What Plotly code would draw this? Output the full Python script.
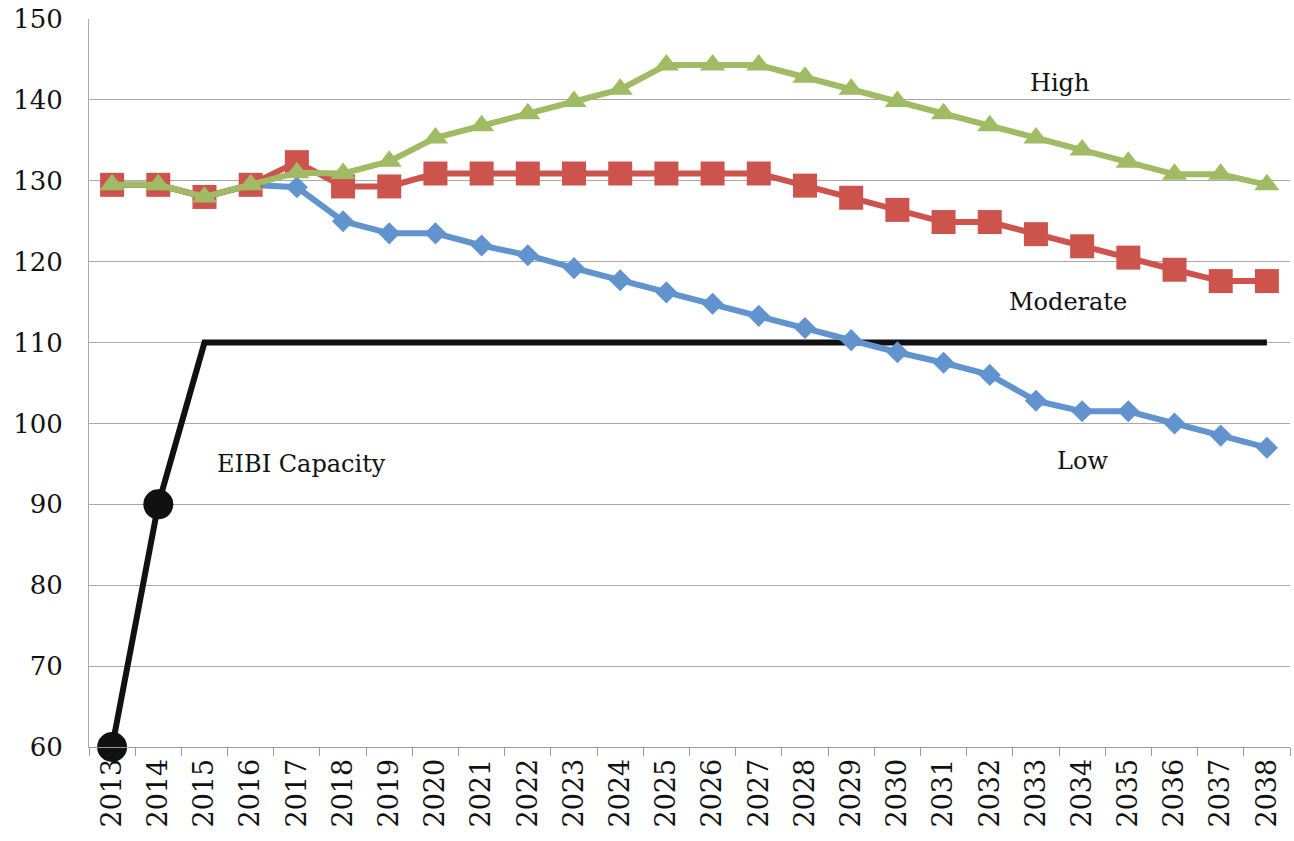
import plotly.graph_objects as go

years = [str(y) for y in range(2013, 2039)]
low = [129.5, 129.5, 128, 129.5, 129.2, 125, 123.5, 123.5, 122, 120.8, 119.2, 117.7, 116.2,
       114.8, 113.3, 111.8, 110.3, 108.8, 107.5, 106, 102.8, 101.5, 101.5, 100, 98.5, 97]
moderate = [129.5, 129.5, 128, 129.5, 132.3, 129.3, 129.3, 130.9, 130.9, 130.9, 130.9, 130.9, 130.9,
            130.9, 130.9, 129.4, 127.9, 126.4, 124.9, 124.9, 123.4, 121.9, 120.5, 119, 117.6, 117.6]
high = [129.5, 129.5, 128, 129.5, 131, 130.9, 132.4, 135.3, 136.8, 138.3, 139.8, 141.3, 144.3,
        144.3, 144.3, 142.8, 141.3, 139.8, 138.3, 136.8, 135.3, 133.8, 132.3, 130.8, 130.8, 129.5]
capacity = [60, 90] + [110] * 24
capacity_marker_years = years[:2]
capacity_marker_values = capacity[:2]

label_texts = ["High", "Moderate", "Low", "EIBI Capacity"]
label_x = [20.5, 20.7, 21.0, 4.1]
label_y = [142.1, 115.0, 95.3, 95.0]

FONT = "DejaVu Serif"
BLUE = "#6193CE"
RED = "#CD544D"
GREEN = "#A0BB63"

fig = go.Figure()
fig.add_trace(go.Scatter(x=years, y=capacity, mode="lines",
                         line=dict(color="#111111", width=6), cliponaxis=False))
fig.add_trace(go.Scatter(x=capacity_marker_years, y=capacity_marker_values, mode="markers",
                         marker=dict(symbol="circle", size=30, color="#111111"), cliponaxis=False))
fig.add_trace(go.Scatter(x=years, y=low, mode="lines+markers",
                         line=dict(color=BLUE, width=6),
                         marker=dict(symbol="diamond", size=17, color=BLUE), cliponaxis=False))
fig.add_trace(go.Scatter(x=years, y=moderate, mode="lines+markers",
                         line=dict(color=RED, width=6),
                         marker=dict(symbol="square", size=24, color=RED), cliponaxis=False))
fig.add_trace(go.Scatter(x=years, y=high, mode="lines+markers",
                         line=dict(color=GREEN, width=6),
                         marker=dict(symbol="triangle-up", size=22, color=GREEN), cliponaxis=False))

for t, x, y in zip(label_texts, label_x, label_y):
    fig.add_annotation(x=x, y=y, xref="x", yref="y", text=t, showarrow=False,
                       font=dict(family=FONT, size=24, color="#111111"))

fig.update_layout(
    width=1294, height=841,
    margin=dict(l=89, r=4, t=16, b=94),
    paper_bgcolor="white", plot_bgcolor="white",
    showlegend=False,
    font=dict(family=FONT, size=24, color="#111111"),
)
fig.update_xaxes(type="category", tickangle=-90, tickson="boundaries",
                 ticks="outside", ticklen=8, tickcolor="#999999",
                 showline=True, linecolor="#999999", linewidth=1,
                 showgrid=False, tickfont=dict(family=FONT, size=27),
                 range=[-0.5, 25.5])
fig.update_yaxes(range=[60, 150], dtick=10, showgrid=True, gridcolor="#a8a8a8",
                 gridwidth=1, showline=True, linecolor="#a8a8a8",
                 ticks="", ticklabelstandoff=20, zeroline=False,
                 ticklabeloverflow="allow",
                 tickfont=dict(family=FONT, size=26))

fig.write_html("out.html",
               config={"displayModeBar": False},
               post_script="document.body.style.margin='0px';document.body.style.overflow='hidden';")
